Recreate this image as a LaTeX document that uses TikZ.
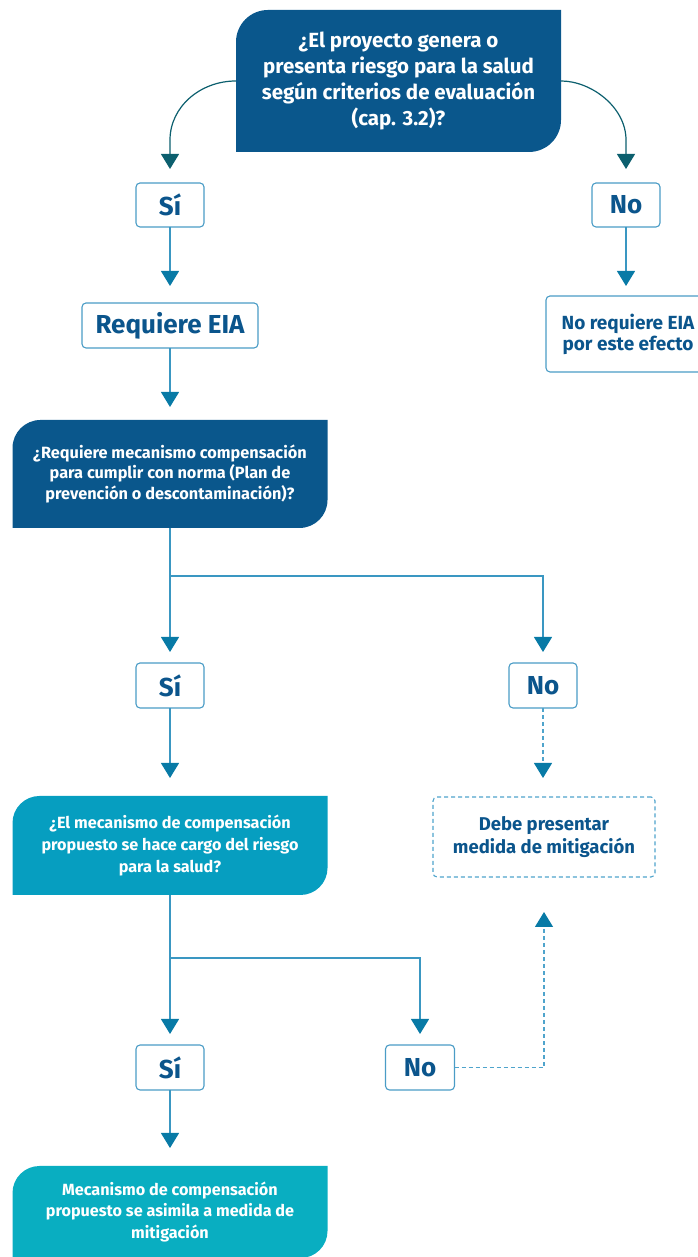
\documentclass[tikz,border=0pt]{standalone}
\usepackage{fontspec}
\setmainfont{Fira Sans}
\usetikzlibrary{arrows.meta,backgrounds,calc}
\definecolor{dblue}{HTML}{0A578C}
\definecolor{mblue}{HTML}{069EC0}
\definecolor{lteal}{HTML}{09AEC1}
\definecolor{tblue}{HTML}{0B558C}
\definecolor{bordc}{HTML}{4A9CC6}
\definecolor{arrc}{HTML}{087AA6}
\definecolor{linec}{HTML}{3A97C2}
\definecolor{dashc}{HTML}{4FA4CC}
\definecolor{tealc}{HTML}{0C5F6E}
\newcommand\leafbg[3]{%
  \fill[#3] (#1.south west) -- ([yshift=-#2]#1.north west)
    arc[start angle=180,end angle=90,radius=#2] -- (#1.north east)
    -- ([yshift=#2]#1.south east)
    arc[start angle=0,end angle=-90,radius=#2] -- cycle;}
\begin{document}
\begin{tikzpicture}[x=1pt,y=1pt,
  qbox/.style={inner sep=0pt, outer sep=0pt, text=white, align=center},
  qbig/.style={qbox, font=\bfseries\fontsize{20.5}{26}\selectfont},
  qtwo/.style={qbox, font=\bfseries\fontsize{16.3}{20.5}\selectfont},
  qsmall/.style={qbox, font=\bfseries\fontsize{16.2}{21.7}\selectfont},
  sbox/.style={draw=bordc, line width=1.1pt, rounded corners=4pt, fill=white,
    text=tblue, inner sep=0pt, outer sep=0pt, align=center},
  sbig/.style={sbox, font=\bfseries\fontsize{26}{30}\selectfont},
  smid/.style={sbox, font=\bfseries\fontsize{18.5}{23.5}\selectfont},
  snr/.style={sbox, font=\bfseries\fontsize{19}{21}\selectfont},
  arr/.style={draw=linec, line width=1.2pt, -{Triangle[width=18pt,length=15pt,color=arrc]}},
  tarr/.style={draw=tealc, line width=1.2pt, -{Triangle[width=18pt,length=15pt,color=tealc]}},
  darr/.style={draw=dashc, line width=1.2pt, dash pattern=on 4pt off 3pt,
    -{Triangle[width=18pt,length=15pt,color=arrc]}},
]
\useasboundingbox (0,0) rectangle (697,1257);

% question boxes
\node[qbig, minimum width=325pt, minimum height=142pt] (q1) at (398.5,1176)
  {¿El proyecto genera o\\presenta riesgo para la salud\\según criterios de evaluación\\(cap. 3.2)?};
\node[qtwo, minimum width=315pt, minimum height=108pt] (q2) at (170,783)
  {¿Requiere mecanismo compensación\\para cumplir con norma (Plan de\\prevención o descontaminación)?};
\node[qsmall, minimum width=315pt, minimum height=99pt] (q3) at (170,411.5)
  {¿El mecanismo de compensación\\propuesto se hace cargo del riesgo\\para la salud?};
\node[qsmall, minimum width=315pt, minimum height=92pt] (q4) at (170,45)
  {Mecanismo de compensación\\propuesto se asimila a medida de\\mitigación};

\begin{pgfonlayer}{background}
  \leafbg{q1}{32pt}{dblue}
  \leafbg{q2}{28pt}{dblue}
  \leafbg{q3}{27pt}{mblue}
  \leafbg{q4}{27pt}{lteal}
\end{pgfonlayer}

% small boxes
\node[sbig, minimum width=68pt, minimum height=44pt] (si1) at (170,1052) {Sí};
\node[sbig, minimum width=68pt, minimum height=44pt] (no1) at (626,1052) {No};
\node[sbig, minimum width=176pt, minimum height=45pt] (req) at (170,931.5) {Requiere EIA};
\node[snr, minimum width=164pt, minimum height=76pt] (noreq) at (628,923) {No requiere EIA\\por este efecto};
\node[sbig, minimum width=68pt, minimum height=45pt] (si2) at (170,571.5) {Sí};
\node[sbig, minimum width=68pt, minimum height=45pt] (no2) at (543,571.5) {No};
\node[smid, minimum width=222pt, minimum height=80pt, draw=dashc, dash pattern=on 4pt off 3pt] (debe) at (544,420)
  {Debe presentar\\medida de mitigación};
\node[sbig, minimum width=68pt, minimum height=45pt] (si3) at (170,189.5) {Sí};
\node[sbig, minimum width=69pt, minimum height=45pt] (no3) at (420,189.5) {No};

% connectors
\draw[tarr] (q1.west) .. controls (200,1176) and (170,1150) .. (170,1117) -- ([yshift=14pt]si1.north);
\draw[tarr] (q1.east) .. controls (591,1176) and (626,1150) .. (626,1117) -- ([yshift=14pt]no1.north);
\draw[arr, shorten >=17pt] (si1.south) -- (req.north);
\draw[arr, shorten >=10pt] (no1.south) -- (no1.south |- noreq.north);
\draw[arr, shorten >=13pt] (req.south) -- (q2.north);

\coordinate (b1) at (170,681);
\draw[arr, shorten >=11pt] (q2.south) -- (si2.north);
\draw[arr, shorten >=11pt] (b1) -| (no2.north);
\draw[arr, shorten >=18pt] (si2.south) -- (q3.north);
\draw[darr, shorten >=19pt] (no2.south) -- (no2.south |- debe.north);

\coordinate (b2) at (170,299);
\draw[arr, shorten >=11pt] (q3.south) -- (si3.north);
\draw[arr, shorten >=11pt] (b2) -| (no3.north);
\draw[arr, shorten >=18pt] (si3.south) -- (q4.north);
\draw[darr, shorten >=35pt] (no3.east) -| (debe.south);
\end{tikzpicture}
\end{document}
